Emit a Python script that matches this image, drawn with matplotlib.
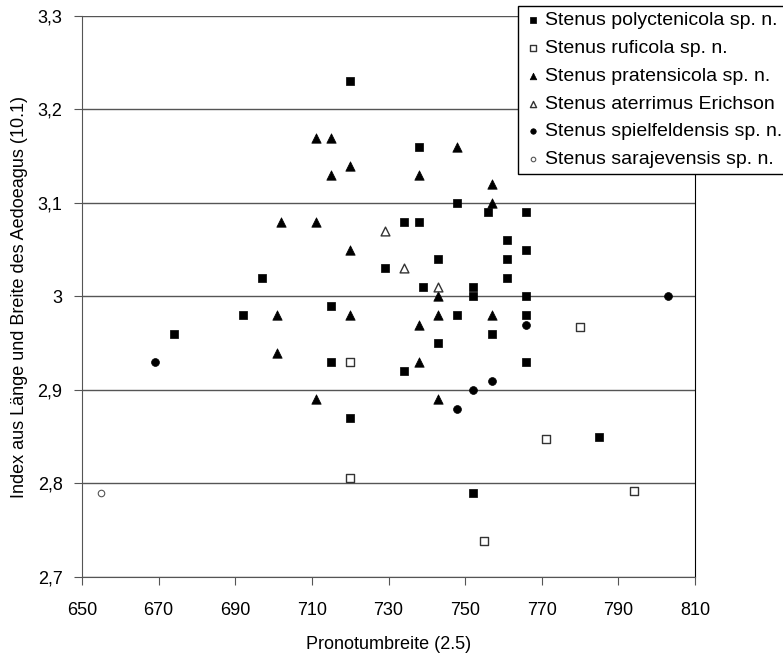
import matplotlib
matplotlib.use('Agg')
import matplotlib.pyplot as plt
from matplotlib.ticker import FuncFormatter, MultipleLocator

plt.rcParams['font.family'] = ['Liberation Sans', 'DejaVu Sans']

# Stenus polyctenicola sp. n.
poly_x = [720, 738, 748, 756, 766, 734, 738, 761, 766, 743, 761, 729, 697, 761, 739, 752,
          752, 766, 715, 692, 748, 766, 674, 757, 743, 715, 766, 734, 720, 785, 752]
poly_y = [3.23, 3.16, 3.10, 3.09, 3.09, 3.08, 3.08, 3.06, 3.05, 3.04, 3.04, 3.03, 3.02, 3.02, 3.01, 3.01,
          3.00, 3.00, 2.99, 2.98, 2.98, 2.98, 2.96, 2.96, 2.95, 2.93, 2.93, 2.92, 2.87, 2.85, 2.79]

# Stenus ruficola sp. n.
rufi_x = [720, 720, 780, 771, 794, 755]
rufi_y = [2.93, 2.806, 2.967, 2.848, 2.792, 2.738]

# Stenus pratensicola sp. n.
prat_x = [711, 715, 748, 720, 715, 738, 757, 757, 702, 711, 720, 743, 701, 720, 743, 757,
          738, 701, 738, 711, 743]
prat_y = [3.17, 3.17, 3.16, 3.14, 3.13, 3.13, 3.12, 3.10, 3.08, 3.08, 3.05, 3.00, 2.98, 2.98, 2.98, 2.98,
          2.97, 2.94, 2.93, 2.89, 2.89]

# Stenus aterrimus Erichson
ater_x = [729, 734, 743]
ater_y = [3.07, 3.03, 3.01]

# Stenus spielfeldensis sp. n.
spie_x = [669, 752, 757, 748, 766, 803]
spie_y = [2.93, 2.90, 2.91, 2.88, 2.97, 3.00]

# Stenus sarajevensis sp. n.
sara_x = [655]
sara_y = [2.79]

x_ticks = [650, 670, 690, 710, 730, 750, 770, 790, 810]

fig = plt.figure(figsize=(7.83, 6.56), dpi=100)
ax = fig.add_axes([82 / 783, 79 / 656, 613 / 783, 561 / 656])

ax.scatter(poly_x, poly_y, marker='s', s=38, c='black', edgecolors='black', linewidths=0.5,
           label='Stenus polyctenicola sp. n.', zorder=3)
ax.scatter(rufi_x, rufi_y, marker='s', s=30, facecolors='white', edgecolors='#333333', linewidths=1.0,
           label='Stenus ruficola sp. n.', zorder=3)
ax.scatter(prat_x, prat_y, marker='^', s=46, c='black', edgecolors='black', linewidths=0.5,
           label='Stenus pratensicola sp. n.', zorder=3)
ax.scatter(ater_x, ater_y, marker='^', s=40, facecolors='white', edgecolors='#333333', linewidths=1.0,
           label='Stenus aterrimus Erichson', zorder=3)
ax.scatter(spie_x, spie_y, marker='o', s=32, c='black', edgecolors='black', linewidths=0.5,
           label='Stenus spielfeldensis sp. n.', zorder=3)
ax.scatter(sara_x, sara_y, marker='o', s=22, facecolors='white', edgecolors='#555555', linewidths=0.8,
           label='Stenus sarajevensis sp. n.', zorder=3)

ax.set_xlim(650, 810)
ax.set_ylim(2.7, 3.3)
ax.set_xticks(x_ticks)
ax.yaxis.set_major_locator(MultipleLocator(0.1))
ax.yaxis.set_major_formatter(FuncFormatter(lambda v, p: f'{round(v, 2):g}'.replace('.', ',')))

ax.grid(axis='y', color='#555555', linewidth=1.0)
ax.set_axisbelow(True)
for side in ['left', 'bottom', 'top']:
    ax.spines[side].set_color('#555555')
ax.spines['top'].set_visible(False)
ax.spines['right'].set_color('black')
ax.tick_params(direction='out', length=6, color='#555555', labelsize=13, pad=8)
ax.tick_params(axis='x', pad=12)

ax.set_xlabel('Pronotumbreite (2.5)', fontsize=13, labelpad=12)
ax.set_ylabel('Index aus Länge und Breite des Aedoeagus (10.1)', fontsize=13)
ax.yaxis.set_label_coords(-0.088, 0.5)

leg = ax.legend(loc='upper left', bbox_to_anchor=(518 / 783, 1 - 6 / 656),
                bbox_transform=fig.transFigure, fontsize=14, frameon=True, fancybox=False,
                edgecolor='black', framealpha=1, markerscale=0.7, handletextpad=0.2,
                handlelength=0.9, borderpad=0.3, labelspacing=0.52, borderaxespad=0)
leg.get_frame().set_linewidth(1.0)

fig.savefig('out.png', dpi=100)
